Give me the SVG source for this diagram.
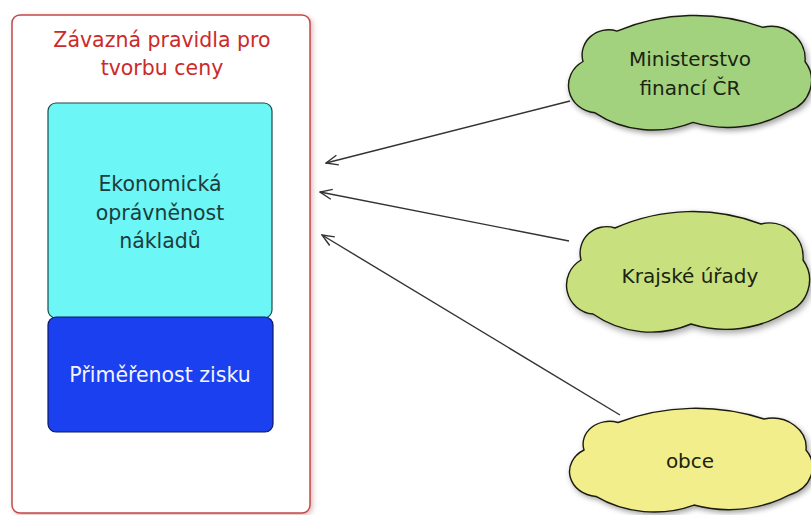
<svg xmlns="http://www.w3.org/2000/svg" width="811" height="515" viewBox="0 0 811 515">
<style>
  text { font-family: "DejaVu Sans", Verdana, sans-serif; text-anchor: middle; }
  .title { font-size: 20.5px; fill: #cc2a2a; }
  .body { font-size: 20.5px; fill: #1e3c3c; }
  .white { font-size: 20.5px; fill: #f4f4ff; }
  .cloudtxt { font-size: 20px; fill: #1a2410; }
  .cloud { stroke: #1a1a10; stroke-width: 1.4; }
  .conn { stroke: #333; stroke-width: 1.4; fill: none; marker-end: url(#arr); }
</style>
<defs>
  <filter id="sh" x="-10%" y="-10%" width="130%" height="130%">
    <feDropShadow dx="2" dy="3" stdDeviation="3" flood-color="#000" flood-opacity="0.35"/>
  </filter>
  <filter id="glow" x="-5%" y="-5%" width="110%" height="110%">
    <feDropShadow dx="2" dy="2" stdDeviation="2.5" flood-color="#a04040" flood-opacity="0.35"/>
  </filter>
  <marker id="arr" markerUnits="userSpaceOnUse" markerWidth="14" markerHeight="12" viewBox="0 0 14 12" refX="13" refY="6" orient="auto">
    <path d="M1 1 L13 6 L1 11" fill="none" stroke="#333" stroke-width="1.4"/>
  </marker>
  <path id="cloudShape" vector-effect="non-scaling-stroke" d="M 18 50 A 26.5 26.5 0 0 1 52 18 A 192 192 0 0 1 198 14 A 34 34 0 0 1 240 50 A 34 34 0 0 1 224 102 A 116 116 0 0 1 128 114 A 102 102 0 0 1 30 104 A 29 29 0 0 1 18 50 Z"/>
</defs>

<g id="outer">
  <rect x="12" y="15" width="298" height="498" rx="8" fill="#fff" stroke="#c44848" stroke-width="1.5" filter="url(#glow)"/>
  <text class="title" x="162" y="47">Závazná pravidla pro</text>
  <text class="title" x="162" y="75">tvorbu ceny</text>
</g>

<g id="ekonomicka">
  <rect x="48" y="103" width="224" height="215" rx="8" fill="#6cf6f6" stroke="#1c4a4a" stroke-width="1.2"/>
  <text class="body" x="160" y="191">Ekonomická</text>
  <text class="body" x="160" y="220">oprávněnost</text>
  <text class="body" x="160" y="248">nákladů</text>
</g>

<g id="primerenost">
  <rect x="48" y="317" width="225" height="115" rx="8" fill="#1a40f0" stroke="#0a1a60" stroke-width="1.2"/>
  <text class="white" x="160" y="382">Přiměřenost zisku</text>
</g>

<g id="ministerstvo">
  <use href="#cloudShape" class="cloud" fill="#a3d27f" transform="translate(565,14) scale(1,0.95)" filter="url(#sh)"/>
  <text class="cloudtxt" x="690" y="66">Ministerstvo</text>
  <text class="cloudtxt" x="690" y="95">financí ČR</text>
</g>

<g id="krajske">
  <use href="#cloudShape" class="cloud" fill="#c9e07e" transform="translate(563,210)" filter="url(#sh)"/>
  <text class="cloudtxt" x="690" y="283">Krajské úřady</text>
</g>

<g id="obce">
  <use href="#cloudShape" class="cloud" fill="#f2ee8c" transform="translate(566,407) scale(1,0.86)" filter="url(#sh)"/>
  <text class="cloudtxt" x="690" y="468">obce</text>
</g>

<g id="connectors">
  <line class="conn" x1="570" y1="101" x2="326" y2="163"/>
  <line class="conn" x1="569" y1="241" x2="320" y2="192"/>
  <line class="conn" x1="620" y1="415" x2="322" y2="235"/>
</g>
</svg>
